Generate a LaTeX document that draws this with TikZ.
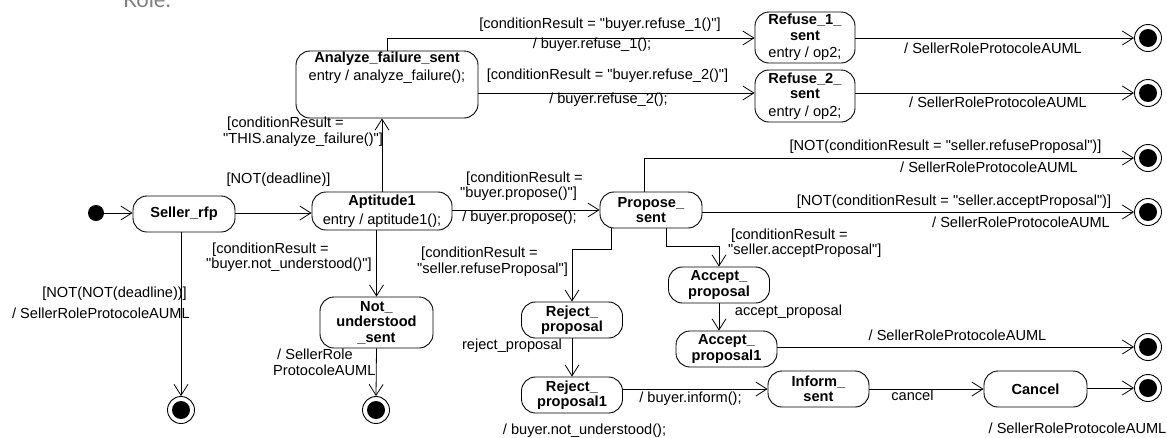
\documentclass[tikz,border=0pt]{standalone}
\usepackage{fontspec}
\setmainfont{Liberation Sans}[Ligatures=TeXOff]
\newfontfamily\rolefont{Lato}
\usetikzlibrary{arrows.meta}

\begin{document}
\begin{tikzpicture}[x=1pt,y=-1pt,
  every node/.style={font=\fontsize{14.6}{15.5}\selectfont, inner sep=1pt},
  state/.style={draw, rounded corners=14pt, line width=0.9pt, align=center, inner sep=2pt},
  smallstate/.style={state, minimum width=101pt, minimum height=36pt},
  initial/.style={circle, fill=black, minimum size=16pt, inner sep=0pt},
  final/.style={circle, draw, line width=0.9pt, minimum size=27pt, inner sep=0pt,
    path picture={\fill (path picture bounding box.center) circle (9pt);}},
  trans/.style={line width=0.8pt, -{Straight Barb[length=11pt,width=14pt]}},
  lbl/.style={align=left}]
% Seitengröße (px)
\useasboundingbox (0,0) rectangle (1167,437);

% Rest vom Text darüber (abgeschnitten)
\node[font=\rolefont\fontsize{22}{24}\selectfont, text=gray, anchor=base west] (role) at (122,7) {Role.};

% Zustände
\node[initial] (init) at (96,213) {};
\node[state, minimum width=102pt, minimum height=36pt] (rfp) at (184,214) {\textbf{Seller\_rfp}};
\node[state, minimum width=140pt, minimum height=38pt] (apt) at (382,211) {\textbf{Aptitude1}\\[3pt]entry / aptitude1();};
\node[state, minimum width=182pt, minimum height=67pt] (af) at (387,84.5) {};
\node[anchor=north, align=center] (aftext) at (af.north) {\textbf{Analyze\_failure\_sent}\\[3pt]entry / analyze\_failure();};
\node[state, minimum width=100pt, minimum height=51pt] (ref1) at (805,37.5) {\textbf{Refuse\_1\_}\\\textbf{sent}\\[2pt]entry / op2;};
\node[state, minimum width=100pt, minimum height=52pt] (ref2) at (805,96) {\textbf{Refuse\_2\_}\\\textbf{sent}\\[2pt]entry / op2;};
\node[state, minimum width=113pt, minimum height=51pt] (nus) at (376.5,322.5) {\textbf{Not\_}\\\textbf{understood}\\\textbf{\_sent}};
\node[smallstate, minimum width=102pt] (prop) at (651,210) {\textbf{Propose\_}\\\textbf{sent}};
\node[smallstate] (rej) at (572,320) {\textbf{Reject\_}\\\textbf{proposal}};
\node[smallstate] (rej1) at (572,395) {\textbf{Reject\_}\\\textbf{proposal1}};
\node[smallstate] (acc) at (719,285) {\textbf{Accept\_}\\\textbf{proposal}};
\node[smallstate] (acc1) at (726.5,349) {\textbf{Accept\_}\\\textbf{proposal1}};
\node[smallstate] (inform) at (818.5,389) {\textbf{Inform\_}\\\textbf{sent}};
\node[smallstate, minimum width=103pt] (cancel) at (1035.5,389) {\textbf{Cancel}};

% Endzustände
\node[final] (f1) at (1148,38) {};
\node[final] (f2) at (1148,93) {};
\node[final] (f3) at (1148,158) {};
\node[final] (f4) at (1148,212) {};
\node[final] (f5) at (1148,347) {};
\node[final] (f6) at (1148,388) {};
\node[final] (f7) at (181,410) {};
\node[final] (f8) at (376,410) {};

% Übergänge
\draw[trans] (init.east) -- (rfp.west |- init);
\draw[trans] (rfp.east |- init) -- (apt.west |- init);
\draw[trans] (f7 |- rfp.south) -- (f7.north);
\draw[trans] (apt.north) -- (apt.north |- af.south);
\draw[trans] (nus.north |- apt.south) -- (nus.north);
\draw[trans] (nus.south) -- (f8.north);
\draw[trans] (af.north) |- (ref1.west |- f1);
\draw[trans] (af.east |- f2) -- (ref2.west |- f2);
\draw[trans] (ref1.east |- f1) -- (f1.west);
\draw[trans] (ref2.east |- f2) -- (f2.west);
\draw[trans] (apt.east |- prop.west) -- (prop.west);
\draw[trans] ([xshift=-7pt]prop.north) |- (f3.west);
\draw[trans] (prop.east |- f4) -- (f4.west);
\coordinate (rk) at (611,249);
\coordinate (ak) at (666,246);
\draw[trans] (rk |- prop.south) -- (rk) -| (rej.north);
\draw[trans] (ak |- prop.south) -- (ak) -| (acc.north);
\draw[trans] (rej.south) -- (rej1.north);
\draw[trans] (acc.south) -- (acc.south |- acc1.north);
\draw[trans] (acc1.east |- f5) -- (f5.west);
\draw[trans] (rej1.east |- inform) -- (inform.west);
\draw[trans] (inform.east) -- (cancel.west);
\draw[trans] (cancel.east |- f6) -- (f6.west);

% Beschriftungen
\node (g1) at (600,25) {[conditionResult = "buyer.refuse\_1()"]};
\node (a1) at (592,45) {/ buyer.refuse\_1();};
\node (g2) at (607.5,76) {[conditionResult = "buyer.refuse\_2()"]};
\node (a2) at (608.5,100) {/ buyer.refuse\_2();};
\node (e1) at (993,48) {/ SellerRoleProtocoleAUML};
\node (e2) at (998,102) {/ SellerRoleProtocoleAUML};
\node[lbl, anchor=west] (gaf) at (222,131.5) {\hspace*{4pt}[conditionResult =\\"THIS.analyze\_failure()"]};
\node (gdl) at (278.5,180) {[NOT(deadline)]};
\node[anchor=east] (gndl) at (188,294) {[NOT(NOT(deadline))]};
\node[anchor=east] (e7) at (191,313) {/ SellerRoleProtocoleAUML};
\node[lbl, anchor=west] (gnu) at (205,257) {\hspace*{6pt}[conditionResult =\\"buyer.not\_understood()"]};
\node[lbl, anchor=west] (e8) at (272,362.5) {\hspace*{4pt}/ SellerRole\\ProtocoleAUML};
\node[lbl, anchor=west] (gpr) at (459,186) {\hspace*{6pt}[conditionResult =\\"buyer.propose()"]};
\node (apr) at (519.5,218) {/ buyer.propose();};
\node[lbl, anchor=west] (grej) at (416,261.5) {\hspace*{4pt}[conditionResult =\\"seller.refuseProposal"]};
\node[lbl, anchor=west] (gacc) at (727,243) {\hspace*{3pt}[conditionResult =\\"seller.acceptProposal"]};
\node (g3) at (945.5,147) {[NOT(conditionResult = "seller.refuseProposal")]};
\node (e3) at (989,167) {/ SellerRoleProtocoleAUML};
\node (g4) at (954,202) {[NOT(conditionResult = "seller.acceptProposal")]};
\node (e4) at (1021,222) {/ SellerRoleProtocoleAUML};
\node (trej) at (512,346) {reject\_proposal};
\node (tacc) at (788.5,312) {accept\_proposal};
\node (e5) at (957.5,335) {/ SellerRoleProtocoleAUML};
\node (ainf) at (690.5,399) {/ buyer.inform();};
\node (tcan) at (912.5,395) {cancel};
\node (e6) at (1077.5,428) {/ SellerRoleProtocoleAUML};
\node (anu) at (584.5,431) {/ buyer.not\_understood();};

\end{tikzpicture}
\end{document}
